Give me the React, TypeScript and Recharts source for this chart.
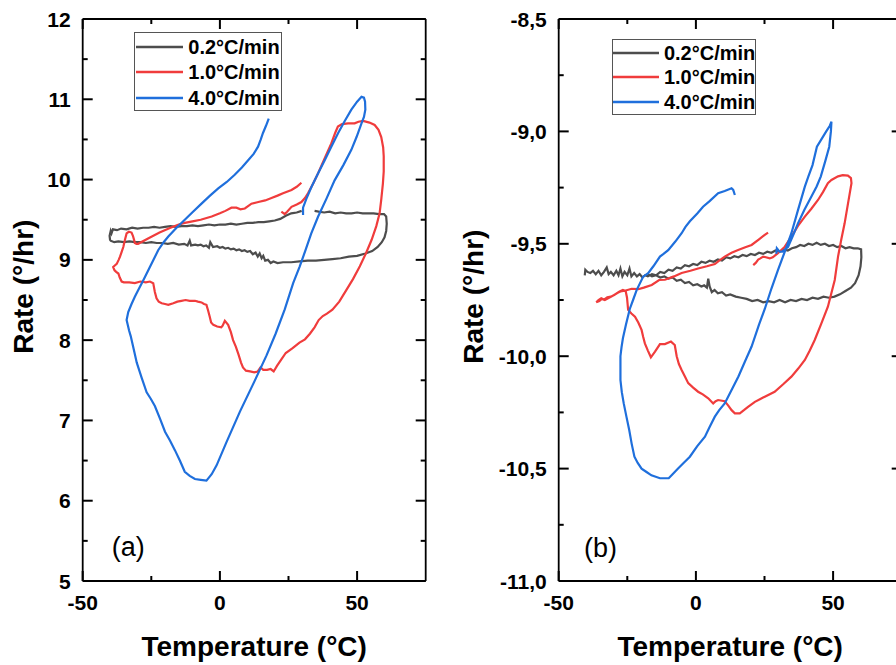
import React from 'react';
import { LineChart, Line, XAxis, YAxis, Legend, ReferenceLine } from 'recharts';

const FONT = 'Arial, "Liberation Sans", Helvetica, sans-serif';

const SERIES_NAMES = ['0.2°C/min', '1.0°C/min', '4.0°C/min'];
const SERIES_COLORS = ['#4d4d4d', '#f03c3c', '#1f6fdc'];

const X_DOMAIN = [-50, 75];
const X_TICKS = [-50, -25, 0, 25, 50];
const Y_TICKS_A = [5, 5.5, 6, 6.5, 7, 7.5, 8, 8.5, 9, 9.5, 10, 10.5, 11, 11.5, 12];
const Y_TICKS_B = [-11, -10.75, -10.5, -10.25, -10, -9.75, -9.5, -9.25, -9, -8.75, -8.5];

type Pt = [number, number | null];

// panel (a), 0.2 °C/min
const slowA: Pt[] = [
  [-40, 9.24], [-40.2, 9.3], [-39.8, 9.36], [-39.5, 9.33], [-39, 9.38], [-37.5, 9.37], [-36, 9.39],
  [-34, 9.38], [-32, 9.4], [-30, 9.39], [-28, 9.4], [-26, 9.4], [-24, 9.41], [-22, 9.4], [-20, 9.41],
  [-18, 9.42], [-16, 9.41], [-14, 9.42], [-12, 9.42], [-10, 9.43], [-8, 9.42], [-6, 9.43], [-4, 9.44],
  [-2, 9.43], [0, 9.44], [2, 9.44], [4, 9.45], [6, 9.44], [8, 9.45], [10, 9.46], [12, 9.46], [14, 9.47],
  [16, 9.47], [18, 9.48], [20, 9.49], [22, 9.51], [24, 9.55], [26, 9.58], [28, 9.59], [29.8, 9.61],
  [32, null],
  [34.5, 9.61], [36, 9.6], [38, 9.59], [40, 9.6], [42, 9.58], [44, 9.59], [46, 9.58], [48, 9.58],
  [50, 9.59], [52, 9.58], [54, 9.58], [56, 9.58], [58, 9.57], [59.8, 9.57], [60.6, 9.54], [60.8, 9.45],
  [60.6, 9.36], [60, 9.28], [59, 9.22], [57.5, 9.16], [55.5, 9.11], [53, 9.08], [50, 9.05], [47, 9.04],
  [44, 9.02], [41, 9.01], [38, 9.0], [35, 8.99], [32, 8.99], [29, 8.98], [26, 8.97], [23, 8.97],
  [21, 8.96], [19.5, 8.98], [18.5, 8.96], [17.5, 9.0], [16.5, 8.99], [15.8, 9.05], [15.2, 9.02],
  [14.5, 9.08], [13.8, 9.04], [13, 9.09], [12, 9.07], [11, 9.11], [10, 9.1], [9, 9.12], [8, 9.11],
  [7, 9.13], [6, 9.12], [5, 9.14], [4, 9.13], [3, 9.15], [2, 9.14], [1, 9.16], [0, 9.15], [-1, 9.17],
  [-2.5, 9.16], [-3.5, 9.22], [-4, 9.15], [-5, 9.18], [-6, 9.17], [-7, 9.19], [-8, 9.18], [-9, 9.19],
  [-10.5, 9.18], [-11, 9.24], [-11.8, 9.18], [-13, 9.2], [-15, 9.19], [-17, 9.21], [-19, 9.2],
  [-21, 9.21], [-23, 9.21], [-25, 9.22], [-27, 9.21], [-29, 9.22], [-31, 9.22], [-33, 9.23],
  [-35, 9.22], [-37, 9.23], [-38.5, 9.22], [-40, 9.24],
];

// panel (a), 1.0 °C/min
const midA: Pt[] = [
  [22.4, 9.6], [23.6, 9.57], [24.5, 9.6], [26.1, 9.66], [28, 9.69], [29.7, 9.72], [31, 9.77],
  [32.1, 9.83], [34, 9.95], [35.8, 10.08], [38, 10.25], [40.6, 10.45], [42, 10.58], [43, 10.66],
  [44.5, 10.69], [46.7, 10.7], [49.1, 10.7], [50.5, 10.72], [52.2, 10.73], [54.5, 10.71], [56.4, 10.68],
  [57.8, 10.62], [58.8, 10.53], [59.5, 10.4], [59.7, 10.29], [59.7, 10.1], [59.4, 9.95], [58.8, 9.75],
  [58.2, 9.58], [57, 9.42], [55.3, 9.25], [53.2, 9.08], [51, 8.92], [48.5, 8.76], [46, 8.62],
  [43.5, 8.48], [41, 8.38], [39, 8.33], [37.5, 8.3], [36, 8.25], [34.5, 8.16], [32.8, 8.08], [31, 8.01],
  [29, 7.97], [26.5, 7.9], [24, 7.84], [22.4, 7.76], [20.8, 7.68], [19.6, 7.61], [18.5, 7.64],
  [17.2, 7.63], [15.8, 7.63], [14.8, 7.66], [13.8, 7.61], [12.5, 7.6], [11, 7.61], [9.5, 7.62],
  [8.4, 7.66], [7.7, 7.72], [6.8, 7.82], [5.8, 7.92], [4.8, 8.0], [4, 8.1], [3, 8.19], [1.8, 8.24],
  [1, 8.18], [0.5, 8.16], [-1, 8.17], [-2.4, 8.19], [-3.2, 8.22], [-3.7, 8.29], [-4.3, 8.37],
  [-4.9, 8.44], [-5.8, 8.45], [-6.7, 8.47], [-8, 8.48], [-9.1, 8.49], [-11, 8.49], [-12.5, 8.5],
  [-14, 8.49], [-15.5, 8.48], [-17, 8.46], [-18.8, 8.44], [-20, 8.45], [-21.2, 8.46], [-22.3, 8.48],
  [-23.1, 8.52], [-23.7, 8.6], [-24.3, 8.71], [-25.5, 8.73], [-27, 8.72], [-29, 8.73], [-31, 8.71],
  [-33, 8.72], [-35, 8.72], [-35.8, 8.73], [-36.5, 8.78], [-37, 8.83], [-37.8, 8.85], [-38.4, 8.87],
  [-38.9, 8.91], [-38.3, 8.93], [-37.6, 8.95], [-36.9, 9.0], [-36.4, 9.04], [-35.8, 9.1], [-35.2, 9.16],
  [-34.6, 9.25], [-34, 9.33], [-33.2, 9.35], [-32.2, 9.34], [-31.7, 9.3], [-31.2, 9.24], [-31, 9.21],
  [-30.4, 9.2], [-29.8, 9.2], [-26, 9.27], [-22, 9.34], [-18, 9.4], [-15, 9.44], [-12.8, 9.46],
  [-10, 9.48], [-7, 9.5], [-3, 9.54], [0, 9.58], [2, 9.61], [4.2, 9.65], [6, 9.65], [7.5, 9.63],
  [9.1, 9.64], [11.5, 9.7], [14, 9.72], [16.5, 9.74], [18.8, 9.77], [21, 9.8], [23, 9.83], [26.1, 9.87],
  [28, 9.91], [29.7, 9.96],
];

// panel (a), 4.0 °C/min
const fastA: Pt[] = [
  [30.3, 9.56], [30.3, 9.65], [31.5, 9.76], [33.4, 9.91], [35.8, 10.08], [38.2, 10.24], [40.6, 10.41],
  [43.1, 10.58], [45.5, 10.73], [47.9, 10.87], [50, 10.97], [51.6, 11.03], [52.5, 11.02], [52.9, 10.97],
  [53, 10.87], [52.5, 10.78], [51.6, 10.7], [49.8, 10.53], [47.9, 10.37], [45, 10.18], [41.8, 9.99],
  [38.8, 9.76], [35.8, 9.54], [33.3, 9.33], [31.2, 9.12], [29, 8.91], [26.7, 8.71], [23.6, 8.38],
  [20.3, 8.08], [17, 7.81], [12.5, 7.48], [7.3, 7.11], [2.4, 6.73], [-1.2, 6.44], [-3, 6.33],
  [-4.9, 6.25], [-7, 6.26], [-9.1, 6.27], [-11, 6.31], [-12.8, 6.36], [-14.6, 6.5], [-16.4, 6.63],
  [-18.2, 6.75], [-20, 6.86], [-21.8, 7.02], [-23.7, 7.18], [-25.2, 7.27], [-26.7, 7.35], [-28.5, 7.53],
  [-30.3, 7.72], [-31.3, 7.87], [-32.5, 8.05], [-33.1, 8.12], [-34, 8.25], [-33.4, 8.35], [-32.2, 8.45],
  [-31, 8.54], [-29.8, 8.62], [-28, 8.74], [-26.1, 8.87], [-24.2, 9.0], [-22.5, 9.12], [-20.5, 9.22],
  [-18.8, 9.29], [-15.8, 9.4], [-12.8, 9.5], [-9.8, 9.6], [-6.7, 9.7], [-3.6, 9.8], [-0.6, 9.89],
  [2.5, 9.97], [5.4, 10.06], [8, 10.15], [10.3, 10.24], [12.3, 10.32], [13.9, 10.41], [14.9, 10.5],
  [15.7, 10.58], [16.8, 10.67], [17.8, 10.76],
];

// panel (b), 0.2 °C/min
const slowB: Pt[] = [
  [-40.5, -9.64], [-40.3, -9.615], [-39.5, -9.625], [-38.5, -9.63], [-37.5, -9.62], [-36.5, -9.635],
  [-35.5, -9.62], [-34.5, -9.64], [-33.5, -9.625], [-32.5, -9.605], [-31.8, -9.635], [-31, -9.625],
  [-30, -9.64], [-29, -9.62], [-28.2, -9.64], [-27.5, -9.61], [-26.8, -9.645], [-26, -9.625],
  [-25, -9.64], [-24.2, -9.61], [-23.5, -9.645], [-22.5, -9.63], [-21.5, -9.645], [-20.5, -9.635],
  [-19.5, -9.65], [-18.5, -9.64], [-17.5, -9.645], [-16, -9.635], [-14.5, -9.64], [-13, -9.625],
  [-11.5, -9.63], [-10, -9.615], [-8.5, -9.62], [-7, -9.605], [-5.5, -9.61], [-4, -9.595], [-2.5, -9.6],
  [-1, -9.59], [0.5, -9.595], [2, -9.58], [3.5, -9.585], [5, -9.575], [6.5, -9.58], [8, -9.57],
  [9.5, -9.575], [11, -9.56], [12.5, -9.565], [14, -9.555], [15.5, -9.56], [17, -9.55], [18.5, -9.555],
  [20, -9.545], [21.5, -9.55], [23, -9.54], [24.5, -9.545], [26, -9.535], [27.5, -9.54], [29, -9.53],
  [30.5, -9.535], [32, -9.525], [33.5, -9.53], [35, -9.52], [36.5, -9.515], [38, -9.505], [39.5, -9.51],
  [41, -9.5], [42.5, -9.505], [44, -9.495], [45.5, -9.505], [47, -9.5], [48.5, -9.51], [50, -9.505],
  [51.5, -9.515], [53, -9.51], [54.5, -9.52], [56, -9.515], [57.5, -9.52], [59, -9.52], [60.2, -9.525],
  [60.3, -9.56], [60, -9.6], [59.3, -9.64], [58, -9.675], [56.5, -9.695], [54.5, -9.71], [52.5, -9.725],
  [50.5, -9.735], [48.5, -9.74], [46.5, -9.735], [44.5, -9.745], [42.5, -9.74], [40.5, -9.75],
  [38.5, -9.745], [36.5, -9.755], [34.5, -9.75], [32.5, -9.76], [30.5, -9.75], [28.5, -9.76],
  [26.5, -9.755], [24.5, -9.76], [22.5, -9.75], [20.5, -9.755], [18.5, -9.745], [16.5, -9.74],
  [14.5, -9.735], [12.5, -9.725], [11, -9.73], [9.5, -9.715], [8, -9.72], [6.8, -9.705], [5.8, -9.715],
  [5, -9.69], [4.5, -9.655], [4, -9.695], [3, -9.685], [2, -9.69], [0.5, -9.68], [-1, -9.685],
  [-2.5, -9.67], [-4, -9.675], [-5.5, -9.66], [-7, -9.665], [-8.5, -9.65], [-10, -9.655], [-11.5, -9.645],
  [-13, -9.65], [-14.5, -9.64], [-16, -9.645], [-17.5, -9.635],
];

// panel (b), 1.0 °C/min
const midB: Pt[] = [
  [26.3, -9.45], [25.1, -9.46], [23, -9.48], [20.3, -9.505], [18, -9.515], [15.4, -9.528], [13, -9.54],
  [10.5, -9.557], [8.5, -9.575], [6.9, -9.59], [4, -9.6], [0.8, -9.61], [-2, -9.62], [-5.2, -9.63],
  [-8, -9.645], [-11.3, -9.66], [-13.4, -9.661], [-16.1, -9.683], [-19, -9.695], [-21, -9.702],
  [-23.4, -9.7], [-25.9, -9.709], [-27.5, -9.712], [-28.3, -9.717], [-29.5, -9.725], [-30.8, -9.735],
  [-32, -9.742], [-33.2, -9.75], [-34.3, -9.745], [-35.2, -9.755], [-36.3, -9.76], [-35.5, -9.75],
  [-34.5, -9.742], [-33.5, -9.748], [-32.3, -9.738], [-31, -9.735], [-29.8, -9.728], [-28.8, -9.72],
  [-27.8, -9.712], [-26.6, -9.705], [-25.6, -9.71], [-25.1, -9.74], [-24.7, -9.794], [-23.5, -9.81],
  [-22.2, -9.824], [-21, -9.85], [-19.8, -9.883], [-19.2, -9.915], [-18.6, -9.943], [-17.5, -9.975],
  [-16.4, -10.005], [-14.9, -9.98], [-13.1, -9.946], [-11.3, -9.946], [-9.1, -9.935], [-7.7, -9.95],
  [-7, -10.0], [-6.2, -10.035], [-5.2, -10.061], [-4, -10.09], [-2.8, -10.12], [-1, -10.14],
  [0.8, -10.158], [2.5, -10.17], [4.5, -10.187], [6.3, -10.21], [7.2, -10.2], [8.1, -10.195],
  [10.5, -10.2], [11.8, -10.22], [13, -10.24], [14.2, -10.254], [16, -10.254], [17.5, -10.24],
  [19, -10.225], [21.5, -10.203], [23.5, -10.19], [25.1, -10.18], [28.7, -10.158], [31.8, -10.125],
  [34.8, -10.091], [37.3, -10.055], [39.7, -10.017], [41.5, -9.975], [43.3, -9.928], [45.7, -9.855],
  [48.1, -9.78], [50.6, -9.661], [51.8, -9.557], [53, -9.48], [54.2, -9.409], [55.3, -9.33],
  [56, -9.28], [56.7, -9.23], [56.5, -9.208], [55.4, -9.197], [53.5, -9.195], [51.8, -9.2],
  [49.4, -9.216], [48.1, -9.23], [46.3, -9.27], [44.5, -9.305], [42, -9.345], [39.7, -9.379],
  [37.2, -9.42], [34.8, -9.468], [32.4, -9.513], [29.9, -9.542], [28, -9.56], [26.9, -9.565],
  [25.5, -9.56], [24.5, -9.557], [23.5, -9.565], [22.7, -9.57], [21.8, -9.585], [20.9, -9.595],
];

// panel (b), 4.0 °C/min
const fastB: Pt[] = [
  [29.3, -9.545], [29.5, -9.52], [30.5, -9.535], [31.5, -9.535], [33.6, -9.513], [35.5, -9.46],
  [37.2, -9.409], [39.5, -9.35], [42.1, -9.29], [44, -9.245], [45.5, -9.201], [47.2, -9.13],
  [48.6, -9.068], [49.2, -9.0], [49.4, -8.957], [48.8, -8.975], [47.5, -9.0], [46, -9.03],
  [44.1, -9.068], [42.5, -9.15], [41, -9.2], [39.7, -9.246], [37.2, -9.35], [34.8, -9.453],
  [32.4, -9.535], [29.9, -9.617], [27.5, -9.7], [25.1, -9.79], [23, -9.86], [20.3, -9.957],
  [18, -10.02], [15.5, -10.09], [13, -10.15], [10.5, -10.21], [8.5, -10.24], [6.9, -10.269],
  [5, -10.315], [3.3, -10.358], [0.5, -10.4], [-2.2, -10.447], [-4.5, -10.475], [-6.5, -10.5],
  [-8.5, -10.525], [-9.9, -10.543], [-13.1, -10.543], [-16.2, -10.53], [-18, -10.515], [-19.8, -10.5],
  [-21.2, -10.475], [-22.4, -10.447], [-23.4, -10.39], [-24.3, -10.328], [-25.3, -10.27],
  [-26.3, -10.21], [-27, -10.16], [-27.5, -10.106], [-27.5, -10.0], [-27.1, -9.96], [-26.6, -9.92],
  [-25.5, -9.86], [-24.1, -9.79], [-22.9, -9.75], [-21.6, -9.706], [-19.2, -9.646], [-17.4, -9.631],
  [-15.5, -9.6], [-13.1, -9.557], [-11.8, -9.545], [-10.1, -9.528], [-7.5, -9.49], [-5.2, -9.453],
  [-3.8, -9.425], [-2.2, -9.4], [0.5, -9.365], [2.6, -9.335], [5, -9.31], [8.1, -9.275], [10.5, -9.265],
  [13, -9.253], [13.6, -9.26], [14.2, -9.283],
];

const toRows = (pts: Pt[]) => pts.map(([t, r]) => ({ t, r }));

const TICK_STYLE = { fontFamily: FONT, fontSize: 21, fontWeight: 700, fill: '#000' };
const TITLE_STYLE = { fontFamily: FONT, fontSize: 28, fontWeight: 700, fill: '#000' };
const FRAME = { stroke: '#000', strokeWidth: 1.8 };
const TICK_MARK = { stroke: '#000', strokeWidth: 2 };
const PLOT_H = 562;
const PLOT_W = 343;

const isMajorX = (v: number) => v % 50 === 0;
const isMajorA = (v: number) => Number.isInteger(v);
const isMajorB = (v: number) => Math.abs(v * 2 - Math.round(v * 2)) < 1e-9;
const fmtPlain = (v: number) => String(v);
const fmtComma = (v: number) => v.toFixed(1).replace('.', ',');

const BottomLabel = ({ x, y, payload }: any) => (
  <text x={x} y={y + 29} textAnchor="middle" style={TICK_STYLE}>{String(payload.value)}</text>
);

const LeftLabel = ({ x, y, payload, fmt }: any) => (
  <text x={x - 12} y={y + 7.5} textAnchor="end" style={TICK_STYLE}>{fmt(payload.value)}</text>
);

const LegendBox = ({ payload, rowH, padTop, padLeft, gap, width }: any) => (
  <div
    style={{
      width,
      boxSizing: 'border-box',
      border: '1px solid #555',
      background: '#fff',
      paddingTop: padTop,
      paddingLeft: padLeft,
      fontFamily: FONT,
      fontSize: 20,
      fontWeight: 700,
      color: '#000',
    }}
  >
    {(payload || []).map((e: any) => (
      <div key={e.value} style={{ display: 'flex', alignItems: 'center', height: rowH, whiteSpace: 'nowrap' }}>
        <svg width={47} height={6} style={{ display: 'block' }}>
          <line x1={0} x2={47} y1={3} y2={3} stroke={e.color} strokeWidth={2.6} />
        </svg>
        <span style={{ marginLeft: gap, lineHeight: 1 }}>{e.value}</span>
      </div>
    ))}
  </div>
);

// inward tick marks on all four sides of the frame, as short reference segments
const frameTicks = (yDomain: number[], yTicks: number[], yMajor: (v: number) => boolean) => {
  const [y0, y1] = yDomain;
  const [x0, x1] = X_DOMAIN;
  const dyPx = (y1 - y0) / PLOT_H;
  const dxPx = (x1 - x0) / PLOT_W;
  const out: React.ReactNode[] = [];
  X_TICKS.forEach((v) => {
    const len = (isMajorX(v) ? 10 : 5) * dyPx;
    out.push(<ReferenceLine key={`b${v}`} segment={[{ x: v, y: y0 }, { x: v, y: y0 + len }]} ifOverflow="visible" {...TICK_MARK} />);
    out.push(<ReferenceLine key={`t${v}`} segment={[{ x: v, y: y1 }, { x: v, y: y1 - len }]} ifOverflow="visible" {...TICK_MARK} />);
  });
  yTicks.forEach((v) => {
    const len = (yMajor(v) ? 10 : 5) * dxPx;
    out.push(<ReferenceLine key={`l${v}`} segment={[{ x: x0, y: v }, { x: x0 + len, y: v }]} ifOverflow="visible" {...TICK_MARK} />);
    out.push(<ReferenceLine key={`r${v}`} segment={[{ x: x1, y: v }, { x: x1 - len, y: v }]} ifOverflow="visible" {...TICK_MARK} />);
  });
  return out;
};

const Panel = ({
  series, width, margin, yWidth, yDomain, yTicks, yMajor, yFmt, titleDx, titleDy, legend, tag,
}: any) => {
  const xMaj = X_TICKS.filter(isMajorX);
  const yMaj = yTicks.filter(yMajor);
  const yTitle = (p: any) => {
    const vb = p && p.viewBox ? p.viewBox : { x: margin.left, y: margin.top, width: yWidth, height: PLOT_H };
    const cx = vb.x + titleDx;
    const cy = vb.y + vb.height / 2 + titleDy;
    return (
      <text transform={`translate(${cx},${cy}) rotate(-90)`} textAnchor="middle" style={TITLE_STYLE}>
        Rate (°/hr)
      </text>
    );
  };
  return (
    <div style={{ position: 'relative', width, height: 665 }}>
      <LineChart width={width} height={665} margin={margin}>
        <XAxis
          dataKey="t" type="number" domain={X_DOMAIN} allowDataOverflow ticks={xMaj} interval={0}
          height={84} tickSize={0} tickMargin={0} tickLine={false} axisLine={FRAME}
          tick={(p: any) => <BottomLabel {...p} />}
          label={{ value: 'Temperature (°C)', position: 'insideBottom', offset: 9.5, style: TITLE_STYLE }}
        />
        <YAxis
          type="number" domain={yDomain} allowDataOverflow ticks={yMaj} interval={0} width={yWidth}
          tickSize={0} tickMargin={0} tickLine={false} axisLine={FRAME}
          tick={(p: any) => <LeftLabel {...p} fmt={yFmt} />}
          label={yTitle}
        />
        <XAxis
          xAxisId="top" orientation="top" mirror type="number" dataKey="t" domain={X_DOMAIN}
          allowDataOverflow height={0.01} tick={false} tickLine={false} axisLine={FRAME}
        />
        <YAxis
          yAxisId="right" orientation="right" mirror type="number" domain={yDomain}
          allowDataOverflow width={0.01} tick={false} tickLine={false} axisLine={FRAME}
        />
        {frameTicks(yDomain, yTicks, yMajor)}
        <Legend
          layout="vertical" align="center" verticalAlign="middle"
          wrapperStyle={{ left: legend.left, top: legend.top, width: legend.width }}
          content={(p: any) => <LegendBox {...p} {...legend} />}
        />
        {series.map((s: Pt[], i: number) => (
          <Line
            key={SERIES_NAMES[i]}
            data={toRows(s)}
            dataKey="r"
            name={SERIES_NAMES[i]}
            type="linear"
            stroke={SERIES_COLORS[i]}
            strokeWidth={2.2}
            dot={false}
            activeDot={false}
            isAnimationActive={false}
          />
        ))}
      </LineChart>
      <div
        style={{
          position: 'absolute', left: tag.left, top: tag.top, fontFamily: FONT, fontSize: 27,
          lineHeight: '27px', color: '#000',
        }}
      >
        {tag.text}
      </div>
    </div>
  );
};

export default function App() {
  return (
    <div style={{ position: 'absolute', left: 0, top: 0, width: 896, height: 665, overflow: 'hidden', background: '#fff' }}>
      <div style={{ position: 'absolute', left: 0, top: 0 }}>
        <Panel
          series={[slowA, midA, fastA]}
          width={448}
          margin={{ top: 19, right: 22.3, bottom: 0, left: 22.7 }}
          yWidth={60}
          yDomain={[5, 12]}
          yTicks={Y_TICKS_A}
          yMajor={isMajorA}
          yFmt={fmtPlain}
          titleDx={10.6}
          titleDy={-13.3}
          legend={{ left: 134.3, top: 32.3, width: 148, rowH: 25.5, padTop: 0.6, padLeft: 0.7, gap: 5.3 }}
          tag={{ left: 111.7, top: 533.5, text: '(a)' }}
        />
      </div>
      <div style={{ position: 'absolute', left: 448, top: 0 }}>
        <Panel
          series={[slowB, midB, fastB]}
          width={460}
          margin={{ top: 19, right: 6.3, bottom: 0, left: 30.7 }}
          yWidth={80}
          yDomain={[-11, -8.5]}
          yTicks={Y_TICKS_B}
          yMajor={isMajorB}
          yFmt={fmtComma}
          titleDx={4.6}
          titleDy={-3.3}
          legend={{ left: 164.3, top: 39.3, width: 144, rowH: 24.6, padTop: 0, padLeft: 0, gap: 5 }}
          tag={{ left: 136, top: 535.2, text: '(b)' }}
        />
      </div>
    </div>
  );
}
